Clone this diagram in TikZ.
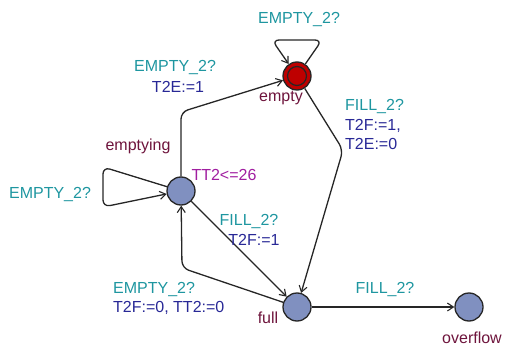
\documentclass[tikz,border=0pt]{standalone}
\usepackage{fontspec}
\setmainfont{Liberation Sans}
\usetikzlibrary{arrows.meta}
\definecolor{synccol}{RGB}{30,150,160}
\definecolor{updcol}{RGB}{40,40,150}
\definecolor{namecol}{RGB}{110,20,60}
\definecolor{invcol}{RGB}{160,30,160}
\definecolor{locfill}{RGB}{128,144,192}
\definecolor{urgfill}{RGB}{190,0,0}
\begin{document}
\begin{tikzpicture}[x=1pt,y=-1pt,
  font=\fontsize{16}{18}\selectfont,
  loc/.style={circle,draw=black!85,line width=1.3pt,fill=locfill,minimum size=28pt,inner sep=0pt},
  edge/.style={draw=black!85,line width=1.3pt,rounded corners=7pt,-{Straight Barb[length=6pt,width=8pt,line width=1.1pt]}},
  sync/.style={text=synccol,inner sep=0pt},
  upd/.style={text=updcol,inner sep=0pt},
  lname/.style={text=namecol,inner sep=0pt},
  inv/.style={text=invcol,inner sep=0pt}]
\useasboundingbox (0,0) rectangle (505,347);
% locations
\node[loc,fill=urgfill] (empty) at (297,76) {};
\node[circle,draw=black!85,line width=1.2pt,minimum size=19pt,inner sep=0pt] (emptyin) at (297,76) {};
\node[loc] (emptying) at (181,191) {};
\node[loc] (full) at (297,307) {};
\node[loc] (overflow) at (469,307) {};
% names
\node[lname] (nEmpty) at (281,98) {empty};
\node[lname] (nEmptying) at (138,146) {emptying};
\node[lname] (nFull) at (268,318) {full};
\node[lname] (nOverflow) at (472,338) {overflow};
\node[inv] (invE) at (224,175) {TT2<=26};
% edges
\draw[edge] (empty) -- (322,40) -- (272,40) -- (empty);
\draw[edge] (emptying) -- (181,112) -- (empty);
\draw[edge] (empty) -- (343,150) -- (full);
\draw[edge] (emptying) -- (103,167) -- (103,207) -- (emptying);
\draw[edge] (emptying) -- (full);
\draw[edge] (full) -- (182,268) -- (emptying);
\draw[edge] (full) -- (overflow);
% labels
\node[sync] (l1) at (299,20) {EMPTY\_2?};
\node[sync] (l2) at (175,68) {EMPTY\_2?};
\node[upd] (l3) at (178,87) {T2E:=1};
\node[sync,anchor=west] (l4) at (345,107) {FILL\_2?};
\node[upd,anchor=west] (l5) at (345,126) {T2F:=1,};
\node[upd,anchor=west] (l6) at (345,144) {T2E:=0};
\node[sync] (l7) at (50,195) {EMPTY\_2?};
\node[sync] (l8) at (249,222) {FILL\_2?};
\node[upd] (l9) at (254,240) {T2F:=1};
\node[sync,anchor=west] (l10) at (113,290) {EMPTY\_2?};
\node[upd,anchor=west] (l11) at (113,308) {T2F:=0, TT2:=0};
\node[sync] (l12) at (385,290) {FILL\_2?};
\end{tikzpicture}
\end{document}
